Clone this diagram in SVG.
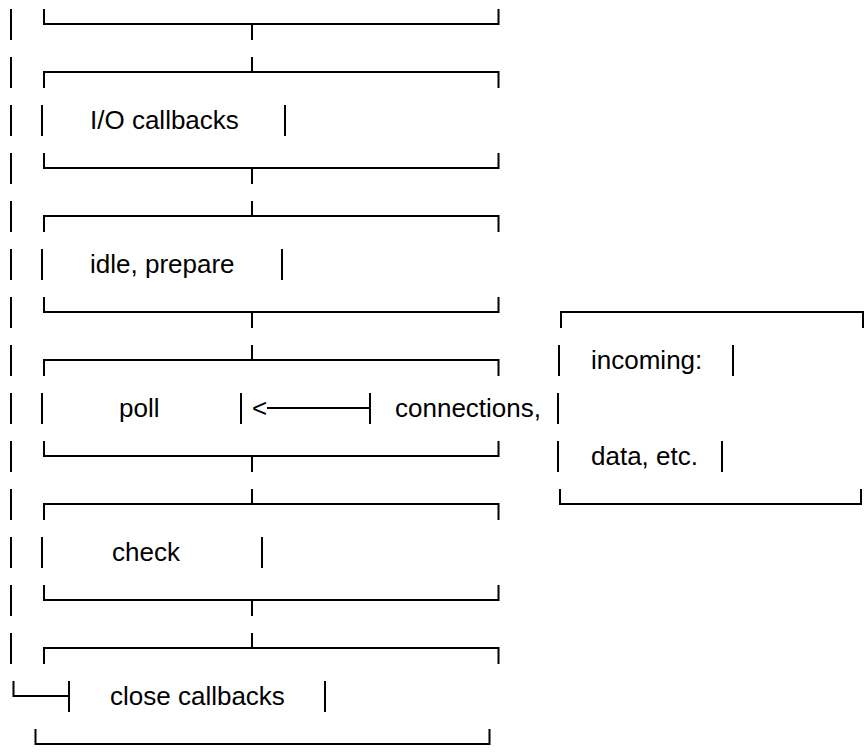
<svg xmlns="http://www.w3.org/2000/svg" width="867" height="755" viewBox="0 0 867 755">
<style>
.ln{fill:none;stroke:#000;stroke-width:2;stroke-linecap:butt;stroke-linejoin:miter}
.t{font-family:"Liberation Sans",Arial,sans-serif;font-size:26px;fill:#000}
</style>
<rect width="867" height="755" fill="#fff"/>
<g id="connectors">
  <!-- vertical links between stages -->
  <path class="ln" d="M252,24V40M252,57V72M252,168V184M252,201V216M252,312V328M252,345V360M252,456V472M252,489V504M252,600V616M252,633V648"/>
  <!-- loop back line on the left -->
  <path class="ln" d="M11,9V40M11,57V88M11,105V136M11,153V184M11,201V232M11,249V280M11,297V328M11,345V376M11,393V424M11,441V472M11,489V520M11,537V568M11,585V616M11,633V664"/>
  <path class="ln" d="M13.5,681V696H69"/>
  <!-- incoming to poll -->
  <path class="ln" d="M267,408H370"/>
  <text class="t" x="252" y="417">&lt;</text>
</g>
<g id="timers">
  <path class="ln" d="M44,9V24H498.5V9"/>
</g>
<g id="io-callbacks">
  <path class="ln" d="M44,88V72H498.5V88"/>
  <path class="ln" d="M42,105V136M285,105V136"/>
  <text class="t" x="90" y="129">I/O callbacks</text>
  <path class="ln" d="M44,153V168H498.5V153"/>
</g>
<g id="idle-prepare">
  <path class="ln" d="M44,232V216H498.5V232"/>
  <path class="ln" d="M42,249V280M282,249V280"/>
  <text class="t" x="90" y="273">idle, prepare</text>
  <path class="ln" d="M44,297V312H498.5V297"/>
</g>
<g id="poll">
  <path class="ln" d="M44,376V360H498.5V376"/>
  <path class="ln" d="M42,393V424M241,393V424"/>
  <text class="t" x="119" y="417">poll</text>
  <path class="ln" d="M44,441V456H498.5V441"/>
</g>
<g id="check">
  <path class="ln" d="M44,520V504H498.5V520"/>
  <path class="ln" d="M42,537V568M262,537V568"/>
  <text class="t" x="112" y="561">check</text>
  <path class="ln" d="M44,585V600H498.5V585"/>
</g>
<g id="close-callbacks">
  <path class="ln" d="M44,664V648H498.5V664"/>
  <path class="ln" d="M69,681V712M325,681V712"/>
  <text class="t" x="110" y="705">close callbacks</text>
  <path class="ln" d="M35.5,729V744H489.5V729"/>
</g>
<g id="incoming">
  <path class="ln" d="M561,328V312H863V328"/>
  <path class="ln" d="M559,345V376M733,345V376"/>
  <text class="t" x="591" y="369">incoming:</text>
  <path class="ln" d="M370,393V424M558,393V424"/>
  <text class="t" x="395" y="417">connections,</text>
  <path class="ln" d="M558,441V472M722,441V472"/>
  <text class="t" x="591" y="465">data, etc.</text>
  <path class="ln" d="M560,489V504H861V489"/>
</g>
</svg>
